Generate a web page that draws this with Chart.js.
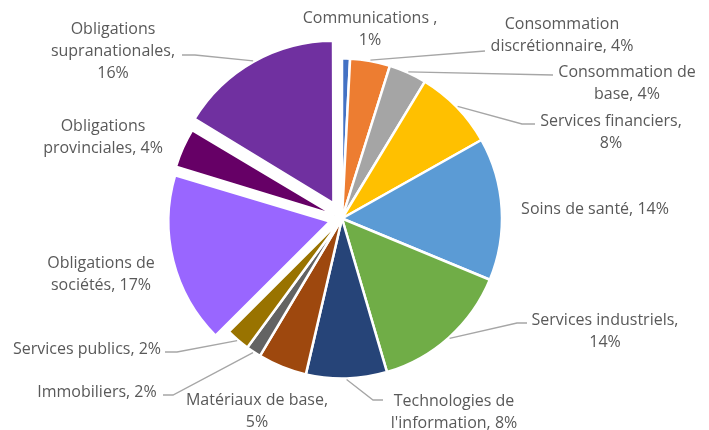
<!DOCTYPE html>
<html lang="fr">
<head>
  <meta charset="UTF-8">
  <title>Répartition sectorielle</title>
  <script src="https://cdn.jsdelivr.net/npm/chart.js"></script>
  <style>
    body {
      margin: 0;
      background: #fff;
    }
    #wrap {
      width: 709px;
      height: 430px;
    }
  </style>
</head>
<body>
  <div id="wrap">
    <canvas id="secteurChart" width="709" height="430"></canvas>
  </div>

  <script>
    // données
    const categories = [
      'Communications ', 'Consommation discrétionnaire', 'Consommation de base',
      'Services financiers', 'Soins de santé', 'Services industriels',
      "Technologies de l'information", 'Matériaux de base', 'Immobiliers',
      'Services publics', 'Obligations de sociétés', 'Obligations provinciales',
      'Obligations supranationales'
    ];
    const values = [0.8, 4.0, 3.8, 8.1, 14.3, 14.1, 8.1, 4.9, 1.5, 2.4, 17.0, 4.0, 16.2];
    const colors = [
      '#4472C4', '#ED7D31', '#A5A5A5', '#FFC000', '#5B9BD5', '#70AD47',
      '#264478', '#9E480E', '#636363', '#997300', '#9966FF', '#660066', '#7030A0'
    ];

    // mise en page des étiquettes (centre x, y de la 1re ligne, mots par ligne, ligne de rappel)
    const labelLayout = [
      { x: 370, y: 18, wrap: [2, 1] },
      { x: 562, y: 24, wrap: [1, 2], line: [[485, 51]] },
      { x: 627, y: 72, wrap: [2, 2], line: [[553, 75]] },
      { x: 611, y: 121, wrap: [2, 1], line: [[522, 124], [535, 124]] },
      { x: 595, y: 209, wrap: [4] },
      { x: 605, y: 320, wrap: [2, 1], line: [[517, 323], [527, 323]] },
      { x: 454, y: 401, wrap: [2, 2], line: [[373, 400], [383, 400]] },
      { x: 257, y: 400, wrap: [3, 1] },
      { x: 97, y: 392, wrap: [2], line: [[173, 395], [163, 395]] },
      { x: 87, y: 349, wrap: [3], line: [[177, 352], [165, 352]] },
      { x: 101, y: 263, wrap: [2, 2] },
      { x: 103, y: 126, wrap: [1, 2] },
      { x: 113, y: 29, wrap: [1, 1, 1], line: [[195, 55], [182, 55]] }
    ];
    const explode = [0, 0, 0, 0, 0, 0, 0, 0, 0, 0, 14, 14, 20];
    const RADIUS = 160;
    const LINE_H = 22;

    const total = values.reduce((a, b) => a + b, 0);

    // Chart.js translate un arc de offset/4 * (2 - sin(c)) : on inverse pour avoir un décalage en px
    function arcOffset(i) {
      const c = values[i] / total * Math.PI * 2;
      return 4 * explode[i] / (2 - Math.sin(Math.min(Math.PI, c)));
    }

    const outsideLabels = {
      id: 'outsideLabels',
      afterDraw(chart) {
        const ctx = chart.ctx;
        const meta = chart.getDatasetMeta(0);
        ctx.save();
        ctx.font = '16px "Open Sans"';
        ctx.fillStyle = '#595959';
        ctx.textAlign = 'center';
        ctx.textBaseline = 'middle';
        meta.data.forEach((arc, i) => {
          const lay = labelLayout[i];
          const pct = Math.round(values[i] / total * 100);
          const words = (categories[i] + ', ' + pct + '%').split(' ').filter(w => w);
          let k = 0;
          lay.wrap.forEach((n, li) => {
            const txt = words.slice(k, k + n).join(' ');
            k += n;
            ctx.fillText(txt, lay.x, lay.y + li * LINE_H);
          });
          if (lay.line) {
            const a = (arc.startAngle + arc.endAngle) / 2;
            const r = arc.outerRadius + explode[i] + 1;
            ctx.beginPath();
            ctx.strokeStyle = '#A6A6A6';
            ctx.lineWidth = 1.3;
            ctx.moveTo(arc.x + Math.cos(a) * r, arc.y + Math.sin(a) * r);
            lay.line.forEach(p => ctx.lineTo(p[0], p[1]));
            ctx.stroke();
          }
        });
        ctx.restore();
      }
    };

    new Chart(document.getElementById('secteurChart'), {
      type: 'pie',
      data: {
        labels: categories,
        datasets: [{
          data: values,
          backgroundColor: colors,
          borderColor: '#fff',
          borderWidth: 2.5,
          offset: ctx => arcOffset(ctx.dataIndex),
          hoverOffset: 0
        }]
      },
      options: {
        responsive: false,
        animation: false,
        radius: RADIUS,
        layout: { padding: { left: 0, right: 25, top: 7, bottom: 0 } },
        plugins: {
          legend: { display: false },
          tooltip: { enabled: false }
        }
      },
      plugins: [outsideLabels]
    });
  </script>
</body>
</html>
